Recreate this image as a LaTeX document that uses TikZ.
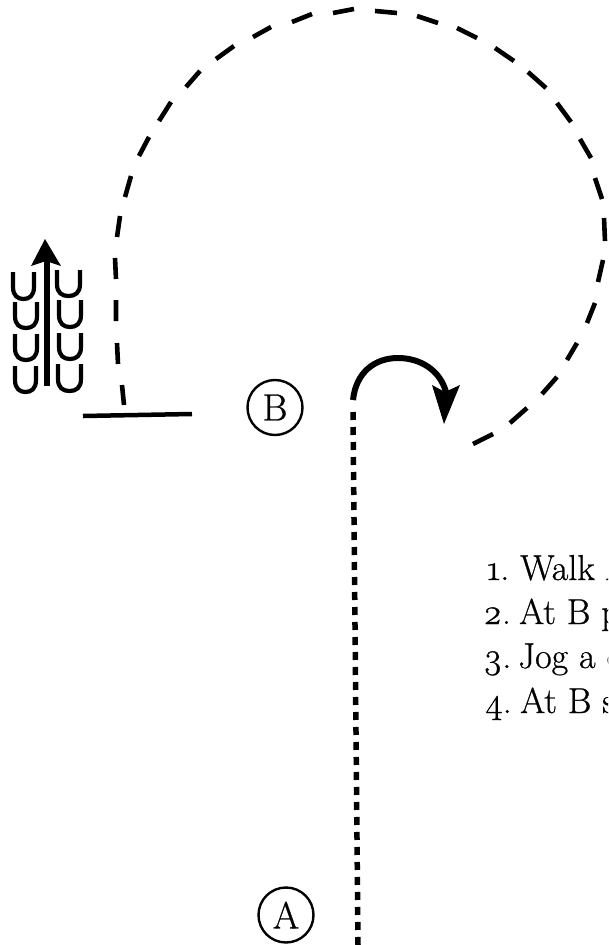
\documentclass[tikz,border=0pt]{standalone}
\usepackage{fontspec}
\newfontfamily\stepfont{Latin Modern Roman}[Numbers=OldStyle,RawFeature={embolden=0.7}]
\usetikzlibrary{arrows.meta}
\tikzset{
  x=1pt,y=-1pt,
  letter/.style={draw,circle,line width=2.4pt,minimum size=55pt,inner sep=0pt,font=\stepfont\fontsize{38}{38}\selectfont},
  spiral/.style={line width=4.6pt},
  dots/.style={line width=5.5pt,dash pattern=on 8pt off 7pt},
  solidline/.style={line width=4.5pt},
  ushape/.style={line width=4.2pt},
  shaft/.style={line width=5.5pt},
  steps/.style={anchor=base west,inner sep=0pt,font=\stepfont\fontsize{36}{36}\selectfont},
}
% #1 left, #2 right, #3 top, #4 bottom (outer edges of the stroke)
\newcommand{\oneU}[4]{\draw[ushape] (#1+2,#3) -- (#1+2,#4-14)
  .. controls (#1+2,#4-5) and (#1+7,#4-2) .. ({(#1+#2)/2},#4-2)
  .. controls (#2-7,#4-2) and (#2-2,#4-5) .. (#2-2,#4-14) -- (#2-2,#3);}
\begin{document}
\begin{tikzpicture}
\useasboundingbox (0,0) rectangle (608,945);
\clip (0,0) rectangle (608,945);
\node[letter] (B) at (275,407.5) {B};
\node[letter] (A) at (286,915) {A};
\coordinate (d0) at (353,400);
\coordinate (d1) at (358,945);
\coordinate (l0) at (83,416);
\coordinate (l1) at (192,414);
\draw[spiral]
  (124,405)--(122,385) (118,364)--(117,343) (116,321)--(116,300) (116,279)--(115,258)
  (117,237)--(120,216) (125,197)--(131,176) (139,156)--(149,137) (159,121)--(171,102)
  (186,87)--(200,71) (216,59)--(234,46) (253,37)--(271,27) (292,22)--(312,14)
  (333,13)--(354,9) (375,11)--(397,13) (417,16)--(438,23) (457,28)--(477,38)
  (495,48)--(514,61) (528,72)--(546,88) (557,103)--(571,122) (580,139)--(591,158)
  (595,178)--(602,199) (604,218)--(605,241) (603,260)--(598,282) (595,303)--(587,323)
  (577,343)--(567,360) (557,377)--(542,394) (527,408)--(510,423) (493,434)--(473,444);
\draw[dots] (d0) ++(0,12) -- (d1);
\draw[solidline] (l0) -- (l1);
\draw[line width=6pt] (d0) .. controls (356,372) and (375,358) .. (398,358)
  .. controls (420,358) and (440,370) .. (446,392);
\fill (444,424) -- (432,385) -- (445,392) -- (460,385) -- cycle;
\oneU{11}{36}{272}{301}\oneU{13}{39}{302}{330}\oneU{13}{39}{334}{362}\oneU{13}{38}{366}{394}
\oneU{55}{82}{270}{298}\oneU{57}{83}{300}{329}\oneU{57}{83}{333}{361}\oneU{56}{83}{364}{393}
\draw[shaft] (47,386) -- (47,258);
\fill (45,239) -- (31,266) -- (46,261) -- (61,266) -- cycle;
\node[steps] (t1) at (487,580) {\makebox[33pt][l]{1.}Walk A};
\node[steps] (t2) at (483,624) {\makebox[36pt][l]{2.}At B p};
\node[steps] (t3) at (483,668) {\makebox[35pt][l]{3.}Jog a c};
\node[steps] (t4) at (485,713) {\makebox[35pt][l]{4.}At B s};
\end{tikzpicture}
\end{document}
